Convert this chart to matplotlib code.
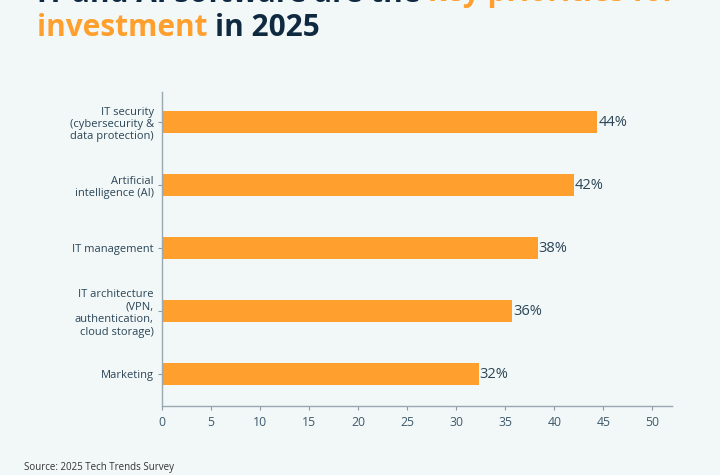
import matplotlib
matplotlib.use('Agg')
import matplotlib.pyplot as plt

# Data
categories = ['IT security\n(cybersecurity &\ndata protection)',
              'Artificial\nintelligence (AI)',
              'IT management',
              'IT architecture\n(VPN,\nauthentication,\ncloud storage)',
              'Marketing']
values = [44.4, 42.0, 38.3, 35.7, 32.3]
value_labels = ['44%', '42%', '38%', '36%', '32%']
xticks = [0, 5, 10, 15, 20, 25, 30, 35, 40, 45, 50]

bg = '#f2f7f8'
orange = '#ff9f2e'
navy = '#0f2a40'
text_col = '#2b4556'

plt.rcParams['font.family'] = ['Open Sans', 'DejaVu Sans']

fig = plt.figure(figsize=(7.2, 4.75), dpi=100, facecolor=bg)
ax = fig.add_axes([0.225, 0.1453, 0.7083, 0.661])
ax.set_facecolor(bg)

pos = list(range(len(categories)))
ax.barh(pos, values, height=0.35, color=orange)
for p, v, lab in zip(pos, values, value_labels):
    ax.text(v + 0.1, p, lab, va='center', ha='left', fontsize=10.5, color=text_col)

ax.set_yticks(pos)
ax.set_yticklabels(categories, fontsize=8, color=text_col, linespacing=1.18)
ax.set_ylim(4.5, -0.48)
ax.set_xlim(0, 52)
ax.set_xticks(xticks)
ax.tick_params(axis='x', labelsize=8.8, color='#8a9aa5', labelcolor='#3f5a6b', length=3, pad=4)
ax.tick_params(axis='y', color='#8a9aa5', length=3, pad=3)
for s in ['top', 'right']:
    ax.spines[s].set_visible(False)
for s in ['left', 'bottom']:
    ax.spines[s].set_color('#9aa8b2')
    ax.spines[s].set_linewidth(1)

# Title (two colours, top line cut off by the figure edge)
fig.canvas.draw()
r = fig.canvas.get_renderer()
inv = fig.transFigure.inverted()

def colored_line(parts, x, y):
    for txt, col in parts:
        t = fig.text(x, y, txt, fontsize=21.4, fontweight='bold', color=col,
                     ha='left', va='baseline')
        bb = t.get_window_extent(renderer=r)
        x = inv.transform((bb.x1, bb.y0))[0]

colored_line([('IT and AI software are the ', navy), ('key priorities for', orange)],
             0.051, 1 - 1.5 / 475)
colored_line([('investment ', orange), ('in 2025', navy)],
             0.051, 1 - 36 / 475)

fig.text(0.033, 1 - 470 / 475, 'Source: 2025 Tech Trends Survey', fontsize=7,
         color='#333333', ha='left', va='baseline')

fig.savefig('out.png', dpi=100, facecolor=bg)
